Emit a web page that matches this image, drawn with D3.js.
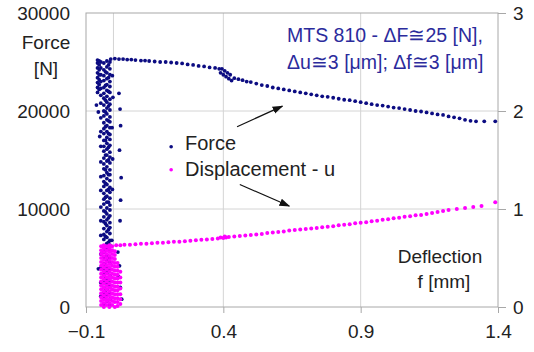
<!DOCTYPE html>
<html>
<head>
<meta charset="utf-8">
<script src="https://cdn.jsdelivr.net/npm/d3@7"></script>
<style>
  body { margin: 0; background: #fff; }
  svg { display: block; font-family: "Liberation Sans", Arial, sans-serif; }
</style>
</head>
<body>
<svg id="chart" width="534" height="352"></svg>
<script>
// ---- data ----
const xTicks = [-0.1, 0.4, 0.9, 1.4];
const xGrid = [0, 0.4, 0.9];
const forceTicks = [0, 10000, 20000, 30000];
const deflTicks = [0, 1, 2, 3];

// force column (x, N), before the crack starts to grow
const forceColumnLanes = [-0.046, -0.035, -0.029, -0.024, -0.018, -0.013];
const forceColumnValues = [
  [1100, 2500, 4000, 5400, 7300, 8800, 10200, 11900, 13300, 14800, 16400, 17900, 19300, 20800, 21600, 22300, 23000, 23700, 24400, 25000],
  [300, 900, 1500, 2000, 2600, 3300, 3800, 4400, 5100, 5600, 6200, 6900, 7400, 8000, 8700, 9200, 9800, 10500, 11000, 11600, 12300, 12800, 13400, 14100, 14600, 15200, 15900, 16400, 17000, 17700, 18200, 18800, 19500, 20000, 20600, 21300, 21800, 22400, 23100, 23600, 24200, 24900],
  [1700, 3000, 4300, 5800, 7200, 8500, 9700, 11200, 12600, 14000, 15500, 17000, 18400, 19900, 21100, 22600, 24000],
  [600, 1200, 1800, 2400, 2900, 3500, 4100, 4700, 5300, 5900, 6500, 7100, 7700, 8300, 8900, 9500, 10100, 10700, 11300, 11900, 12500, 13100, 13700, 14300, 14900, 15500, 16100, 16700, 17300, 17900, 18500, 19100, 19700, 20300, 20900, 21500, 22100, 22700, 23300, 23900, 24500, 25100],
  [2300, 3600, 5000, 6600, 7900, 9100, 10700, 12000, 13500, 15000, 16300, 17700, 19000, 20500, 22000, 23400, 24700],
  [200, 800, 1400, 2100, 2700, 3200, 3900, 4500, 5000, 5700, 6300, 6800, 7500, 8100, 8600, 9300, 9900, 10400, 11100, 11700, 12200, 12900, 13500, 14000, 14700, 15300, 15800, 16500, 17100, 17600, 18300, 18900, 19400, 20100, 20700, 21200, 21900, 22500, 23000, 23700, 24300, 25000]
];
const forceTopExtra = [
  [-0.058, 21900], [-0.058, 22400], [-0.058, 22900], [-0.058, 23400], [-0.058, 23900], [-0.058, 24400], [-0.058, 24900], [-0.058, 25200],
  [-0.052, 22200], [-0.052, 22700], [-0.052, 23200], [-0.052, 23700], [-0.052, 24200], [-0.052, 24700], [-0.052, 25100],
  [-0.062, 20600], [-0.055, 19900], [-0.05, 17400], [-0.004, 23600], [-0.002, 21400], [-0.005, 18300], [-0.003, 15100],
  [0.02, 21800], [0.024, 20200], [0.026, 18500], [0.022, 16000], [0.028, 13200], [0.026, 10900], [0.024, 8800],
  [0.022, 4200], [0.025, 2000], [0.03, 800], [0.018, 3100], [0.016, 5600], [-0.006, 6800], [-0.004, 12000], [-0.055, 3900]
];
// force after the peak
const forceLine = [
  [-0.01, 25300], [0.005, 25350], [0.02, 25300], [0.035, 25300], [0.05, 25250], [0.065, 25250], [0.08, 25200],
  [0.1, 25150], [0.115, 25150], [0.13, 25100], [0.15, 25050], [0.17, 25000], [0.19, 25000], [0.21, 24950],
  [0.23, 24900], [0.25, 24850], [0.27, 24750], [0.29, 24700], [0.31, 24600], [0.33, 24550], [0.35, 24450],
  [0.37, 24400], [0.385, 24300], [0.39, 23900], [0.395, 24300], [0.4, 23700], [0.405, 24100], [0.41, 23500],
  [0.415, 23900], [0.42, 23300], [0.425, 23700], [0.43, 23100], [0.44, 23350], [0.455, 23250], [0.47, 23150],
  [0.485, 23000], [0.5, 22950], [0.52, 22800], [0.54, 22650], [0.56, 22550], [0.58, 22400], [0.6, 22300],
  [0.62, 22200], [0.64, 22100], [0.66, 22000], [0.68, 21900], [0.7, 21800], [0.72, 21700], [0.74, 21600],
  [0.76, 21500], [0.78, 21450], [0.8, 21350], [0.82, 21250], [0.84, 21150], [0.86, 21100], [0.88, 21000],
  [0.9, 20900], [0.92, 20800], [0.94, 20700], [0.96, 20600], [0.98, 20550], [1.0, 20450], [1.02, 20350],
  [1.04, 20300], [1.06, 20200], [1.08, 20100], [1.1, 20000], [1.12, 19950], [1.14, 19850], [1.16, 19750],
  [1.18, 19650], [1.2, 19600], [1.22, 19450], [1.24, 19350], [1.26, 19250], [1.28, 19100], [1.3, 19000],
  [1.32, 18950], [1.35, 18950], [1.39, 18950]
];

// displacement u column (x, mm)
const dispColumnLanes = [-0.045, -0.035, -0.025, -0.015, -0.005, 0.005, 0.015, 0.025];
const dispColumnValues = [
  [0.02, 0.06, 0.1, 0.14, 0.18, 0.22, 0.26, 0.3, 0.34, 0.38, 0.42, 0.46, 0.5, 0.54, 0.58, 0.62],
  [0.0, 0.04, 0.08, 0.12, 0.16, 0.2, 0.24, 0.28, 0.32, 0.36, 0.4, 0.44, 0.48, 0.52, 0.56, 0.6, 0.63],
  [0.02, 0.06, 0.1, 0.14, 0.18, 0.22, 0.26, 0.3, 0.34, 0.38, 0.42, 0.46, 0.5, 0.54, 0.58, 0.62],
  [0.0, 0.04, 0.08, 0.12, 0.16, 0.2, 0.24, 0.28, 0.32, 0.36, 0.4, 0.44, 0.48, 0.52, 0.56, 0.6, 0.63],
  [0.02, 0.06, 0.1, 0.14, 0.18, 0.22, 0.26, 0.3, 0.34, 0.38, 0.42, 0.46, 0.5, 0.54, 0.58, 0.62],
  [0.0, 0.05, 0.09, 0.13, 0.17, 0.21, 0.25, 0.29, 0.33, 0.37, 0.41, 0.45, 0.49, 0.53, 0.57],
  [0.01, 0.05, 0.09, 0.13, 0.17, 0.21, 0.25, 0.29, 0.33, 0.37, 0.41, 0.45],
  [0.03, 0.08, 0.13, 0.19, 0.25, 0.3, 0.36]
];
const dispLine = [
  [0.01, 0.63], [0.025, 0.63], [0.04, 0.635], [0.06, 0.635], [0.08, 0.64], [0.1, 0.645], [0.12, 0.645],
  [0.14, 0.65], [0.16, 0.655], [0.18, 0.655], [0.2, 0.66], [0.22, 0.665], [0.24, 0.665], [0.26, 0.67],
  [0.28, 0.675], [0.3, 0.68], [0.32, 0.685], [0.34, 0.69], [0.36, 0.695], [0.38, 0.7], [0.39, 0.71],
  [0.4, 0.705], [0.405, 0.72], [0.41, 0.71], [0.42, 0.715], [0.44, 0.72], [0.46, 0.725], [0.48, 0.73],
  [0.5, 0.735], [0.52, 0.74], [0.54, 0.745], [0.56, 0.755], [0.58, 0.76], [0.6, 0.765], [0.62, 0.77],
  [0.64, 0.78], [0.66, 0.785], [0.68, 0.79], [0.7, 0.795], [0.72, 0.8], [0.74, 0.805], [0.76, 0.815],
  [0.78, 0.82], [0.8, 0.825], [0.82, 0.835], [0.84, 0.84], [0.86, 0.845], [0.88, 0.855], [0.9, 0.86],
  [0.92, 0.865], [0.94, 0.875], [0.96, 0.88], [0.98, 0.89], [1.0, 0.895], [1.02, 0.905], [1.04, 0.91],
  [1.06, 0.92], [1.08, 0.925], [1.1, 0.935], [1.12, 0.94], [1.14, 0.95], [1.16, 0.96], [1.18, 0.97],
  [1.2, 0.98], [1.22, 0.99], [1.25, 1.0], [1.28, 1.01], [1.31, 1.02], [1.34, 1.03], [1.39, 1.07]
];

// ---- layout ----
const svg = d3.select("#chart");
const margin = { top: 13, right: 36, bottom: 45, left: 86 };
const width = 534, height = 352;

const x = d3.scaleLinear().domain([-0.1, 1.4]).range([margin.left, width - margin.right]);
const yF = d3.scaleLinear().domain([0, 30000]).range([height - margin.bottom, margin.top]);
const yU = d3.scaleLinear().domain([0, 3]).range([height - margin.bottom, margin.top]);

const navy = "#0c0c82";
const pink = "#ff00ff";
const textCol = "#222";

// grid
svg.append("g").selectAll("line").data(forceTicks.slice(1, 3)).join("line")
  .attr("x1", x(-0.1)).attr("x2", x(1.4))
  .attr("y1", d => yF(d)).attr("y2", d => yF(d))
  .attr("stroke", "#d4d4d4");
svg.append("g").selectAll("line").data(xGrid).join("line")
  .attr("x1", d => x(d)).attr("x2", d => x(d))
  .attr("y1", yF(0)).attr("y2", yF(30000))
  .attr("stroke", "#d4d4d4");

// plot frame
svg.append("rect")
  .attr("x", x(-0.1)).attr("y", yF(30000))
  .attr("width", x(1.4) - x(-0.1)).attr("height", yF(0) - yF(30000))
  .attr("fill", "none").attr("stroke", "#a8a8a8");

// axes
const styleAxis = g => {
  g.select(".domain").remove();
  g.selectAll("line").attr("stroke", "#a8a8a8");
  g.selectAll("text").attr("fill", textCol).style("font-size", "19px");
};
svg.append("g")
  .attr("transform", `translate(0,${yF(0)})`)
  .call(d3.axisBottom(x).tickValues(xTicks).tickFormat(d3.format(".1f")).tickSize(6).tickPadding(12))
  .call(styleAxis);
svg.append("g")
  .attr("transform", `translate(${x(-0.1)},0)`)
  .call(d3.axisLeft(yF).tickValues(forceTicks).tickFormat(d3.format("d")).tickSize(0).tickPadding(16))
  .call(styleAxis);
svg.append("g")
  .attr("transform", `translate(${x(1.4)},0)`)
  .call(d3.axisRight(yU).tickValues(deflTicks).tickFormat(d3.format("d")).tickSize(8).tickPadding(7))
  .call(styleAxis);

// series
const forcePts = [];
forceColumnLanes.forEach((lx, i) => forceColumnValues[i].forEach(v => forcePts.push([lx, v])));
forceTopExtra.forEach(p => forcePts.push(p));
forceLine.forEach(p => forcePts.push(p));

const dispPts = [];
dispColumnLanes.forEach((lx, i) => dispColumnValues[i].forEach(v => dispPts.push([lx, v])));
dispLine.forEach(p => dispPts.push(p));

svg.append("g").selectAll("circle").data(forcePts).join("circle")
  .attr("cx", d => x(d[0])).attr("cy", d => yF(d[1])).attr("r", 1.9)
  .attr("fill", navy);
svg.append("g").selectAll("circle").data(dispPts).join("circle")
  .attr("cx", d => x(d[0])).attr("cy", d => yU(d[1])).attr("r", 2)
  .attr("fill", pink);

// axis titles
const label = (tx, ty, s, anchor, col, size) => svg.append("text")
  .attr("x", tx).attr("y", ty).attr("text-anchor", anchor || "middle")
  .attr("fill", col || textCol).style("font-size", size || "19px").text(s);
label(46, 49, "Force");
label(46, 75, "[N]");
label(440, 263, "Deflection");
label(444, 288, "f [mm]");

// test rig note
label(287, 42, "MTS 810 - \u0394F\u224525 [N],", "start", "#2b2b9c", "19.5px");
label(287, 69, "\u0394u\u22453 [\u03bcm]; \u0394f\u22453 [\u03bcm]", "start", "#2b2b9c", "19.5px");

// legend
svg.append("circle").attr("cx", x(0.21)).attr("cy", yF(16350)).attr("r", 1.8).attr("fill", navy);
svg.append("circle").attr("cx", x(0.21)).attr("cy", yU(1.4)).attr("r", 1.8).attr("fill", pink);
label(185, 150, "Force", "start", textCol, "20px");
label(185, 176, "Displacement - u", "start", textCol, "20px");

// arrows to the curves
svg.append("defs").append("marker")
  .attr("id", "head").attr("viewBox", "0 0 10 10").attr("refX", 9).attr("refY", 5)
  .attr("markerWidth", 9).attr("markerHeight", 9).attr("orient", "auto")
  .append("path").attr("d", "M0,1.5L10,5L0,8.5z").attr("fill", "#111");
const arrows = [
  { from: [0.45, 1.84], to: [0.615, 2.05] },
  { from: [0.46, 1.25], to: [0.64, 1.03] }
];
svg.append("g").selectAll("line").data(arrows).join("line")
  .attr("x1", d => x(d.from[0])).attr("y1", d => yU(d.from[1]))
  .attr("x2", d => x(d.to[0])).attr("y2", d => yU(d.to[1]))
  .attr("stroke", "#111").attr("stroke-width", 1.2).attr("marker-end", "url(#head)");
</script>
</body>
</html>
